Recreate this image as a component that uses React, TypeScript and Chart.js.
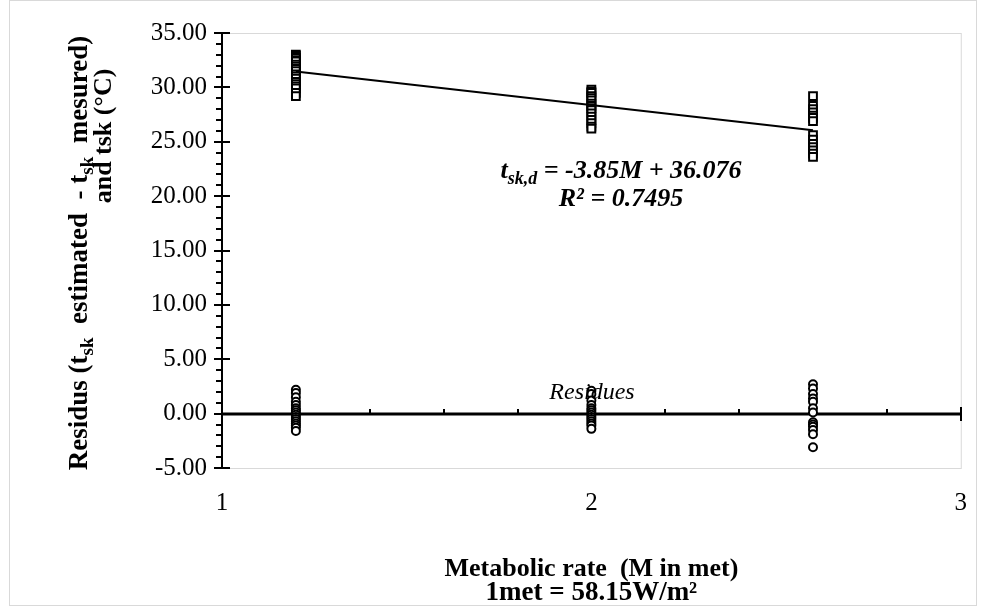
import React, { useEffect, useRef } from "react";
import { Chart, registerables } from "chart.js";

Chart.register(...registerables);

// ---------- data ----------
const tskAt12 = [33.0, 32.9, 32.7, 32.5, 32.4, 32.1, 31.9, 31.7, 31.5, 31.2, 31.0, 30.8, 30.5, 30.3, 30.1, 29.9, 29.5, 29.2];
const tskAt20 = [29.8, 29.6, 29.5, 29.2, 29.0, 28.8, 28.5, 28.3, 28.1, 27.9, 27.6, 27.3, 27.0, 26.7, 26.4, 26.2];
const tskAt26 = [29.2, 28.3, 28.0, 27.7, 27.4, 27.2, 26.9, 25.6, 25.2, 24.8, 24.5, 24.2, 23.9, 23.6];
const resAt12 = [2.2, 1.9, 1.5, 1.1, 0.8, 0.5, 0.3, 0.1, -0.1, -0.3, -0.5, -0.7, -0.9, -1.1, -1.3, -1.6];
const resAt20 = [2.1, 1.8, 1.2, 0.8, 0.5, 0.3, 0.1, -0.1, -0.3, -0.5, -0.7, -0.9, -1.1, -1.4];
const resAt26 = [2.7, 2.3, 1.8, 1.4, 1.1, 0.5, 0.1, -0.8, -1.0, -1.2, -1.5, -1.9, -3.1];
const metabolicLevels = [1.2, 2.0, 2.6];
const trendX = [1.2, 2.6];
const trendY = [31.456, 26.066];
const yMin = -5;
const yMax = 35;
const yMajorStep = 5;
const yMinorStep = 1;
const xMin = 1;
const xMax = 3;
const xMinorStep = 0.2;

const xTitle1 = "Metabolic rate  (M in met)";
const xTitle2 = "1met = 58.15W/m²";
const residuesLabel = "Residues";
const r2Label = "R² = 0.7495";

const SERIF = "'Liberation Serif', 'Times New Roman', serif";

type Seg = { text: string; font: string; dy: number };

function drawRich(ctx: CanvasRenderingContext2D, segs: Seg[], cx: number, by: number) {
  let total = 0;
  const widths = segs.map((s) => {
    ctx.font = s.font;
    const w = ctx.measureText(s.text).width;
    total += w;
    return w;
  });
  let x = cx - total / 2;
  ctx.textAlign = "left";
  ctx.textBaseline = "alphabetic";
  segs.forEach((s, i) => {
    ctx.font = s.font;
    ctx.fillText(s.text, x, by + s.dy);
    x += widths[i];
  });
}

const decorPlugin = {
  id: "decor",
  beforeDraw(chart: any) {
    const ctx = chart.ctx as CanvasRenderingContext2D;
    ctx.save();
    ctx.strokeStyle = "#d9d9d9";
    ctx.lineWidth = 1;
    ctx.strokeRect(9.5, 0.5, 967, 605);
    ctx.restore();
  },
  beforeDatasetsDraw(chart: any) {
    const ctx = chart.ctx as CanvasRenderingContext2D;
    const a = chart.chartArea;
    const x = chart.scales.x;
    const y = chart.scales.y;
    ctx.save();
    ctx.strokeStyle = "#d9d9d9";
    ctx.lineWidth = 1;
    ctx.strokeRect(Math.round(a.left) + 0.5, Math.round(a.top) + 0.5, a.right - a.left, a.bottom - a.top);
    ctx.strokeStyle = "#000";
    ctx.lineWidth = 2;
    ctx.beginPath();
    ctx.moveTo(a.left, a.top);
    ctx.lineTo(a.left, a.bottom);
    ctx.stroke();
    const nMinor = Math.round((yMax - yMin) / yMinorStep);
    for (let i = 0; i <= nMinor; i++) {
      const v = yMin + i * yMinorStep;
      const py = Math.round(y.getPixelForValue(v));
      ctx.beginPath();
      if (Math.abs(v % yMajorStep) < 1e-9) {
        ctx.moveTo(a.left - 8, py);
        ctx.lineTo(a.left + 8, py);
      } else {
        ctx.moveTo(a.left - 6, py);
        ctx.lineTo(a.left, py);
      }
      ctx.stroke();
    }
    const py0 = Math.round(y.getPixelForValue(0));
    ctx.lineWidth = 3;
    ctx.beginPath();
    ctx.moveTo(a.left, py0);
    ctx.lineTo(a.right, py0);
    ctx.stroke();
    ctx.lineWidth = 2;
    const nx = Math.round((xMax - xMin) / xMinorStep);
    for (let i = 0; i <= nx; i++) {
      const v = xMin + i * xMinorStep;
      const px = Math.round(x.getPixelForValue(v));
      ctx.beginPath();
      if (i % 5 === 0) {
        ctx.moveTo(px, py0 - 7);
        ctx.lineTo(px, py0 + 7);
      } else {
        ctx.moveTo(px, py0 - 5);
        ctx.lineTo(px, py0);
      }
      ctx.stroke();
    }
    ctx.restore();
  },
  afterDraw(chart: any) {
    const ctx = chart.ctx as CanvasRenderingContext2D;
    const a = chart.chartArea;
    const cx = (a.left + a.right) / 2;
    ctx.save();
    ctx.fillStyle = "#000";
    drawRich(ctx, [{ text: xTitle1, font: `bold 26px ${SERIF}`, dy: 0 }], cx, 576);
    drawRich(ctx, [{ text: xTitle2, font: `bold 27px ${SERIF}`, dy: 0 }], cx, 600);
    const bi = `italic bold 26px ${SERIF}`;
    const biSub = `italic bold 18px ${SERIF}`;
    drawRich(
      ctx,
      [
        { text: "t", font: bi, dy: 0 },
        { text: "sk,d", font: biSub, dy: 6 },
        { text: " = -3.85M + 36.076", font: bi, dy: 0 },
      ],
      621,
      178
    );
    drawRich(ctx, [{ text: r2Label, font: bi, dy: 0 }], 621, 206);
    drawRich(ctx, [{ text: residuesLabel, font: `italic 24px ${SERIF}`, dy: 0 }], 592, 399);
    const b = `bold 27px ${SERIF}`;
    const bs = `bold 19px ${SERIF}`;
    ctx.save();
    ctx.translate(87, 253);
    ctx.rotate(-Math.PI / 2);
    drawRich(
      ctx,
      [
        { text: "Residus (t", font: b, dy: 0 },
        { text: "sk", font: bs, dy: 6 },
        { text: "  estimated  - t", font: b, dy: 0 },
        { text: "sk", font: bs, dy: 6 },
        { text: "  mesured)", font: b, dy: 0 },
      ],
      0,
      0
    );
    ctx.restore();
    ctx.save();
    ctx.translate(111, 136);
    ctx.rotate(-Math.PI / 2);
    drawRich(ctx, [{ text: "and tsk (°C)", font: `bold 26px ${SERIF}`, dy: 0 }], 0, 0);
    ctx.restore();
    ctx.restore();
  },
};

function pts(xv: number, ys: number[]) {
  return ys.map((v) => ({ x: xv, y: v }));
}

export default function App() {
  const ref = useRef<HTMLCanvasElement | null>(null);
  useEffect(() => {
    if (!ref.current) return;
    const squares = [
      ...pts(metabolicLevels[0], tskAt12),
      ...pts(metabolicLevels[1], tskAt20),
      ...pts(metabolicLevels[2], tskAt26),
    ];
    const circles = [
      ...pts(metabolicLevels[0], resAt12),
      ...pts(metabolicLevels[1], resAt20),
      ...pts(metabolicLevels[2], resAt26),
    ];
    const trend = trendX.map((xv, i) => ({ x: xv, y: trendY[i] }));
    const chart = new Chart(ref.current, {
      type: "scatter",
      data: {
        datasets: [
          {
            type: "line",
            data: trend,
            borderColor: "#000",
            borderWidth: 2,
            pointRadius: 0,
            showLine: true,
            fill: false,
          } as any,
          {
            data: squares,
            pointStyle: "rect",
            pointRadius: 5.5,
            borderColor: "#000",
            backgroundColor: "#fff",
            borderWidth: 2,
          },
          {
            data: circles,
            pointStyle: "circle",
            pointRadius: 4,
            borderColor: "#000",
            backgroundColor: "#fff",
            borderWidth: 2,
          },
        ],
      },
      options: {
        animation: false,
        responsive: false,
        events: [],
        layout: { padding: { top: 33, right: 25, left: 0, bottom: 0 } },
        plugins: { legend: { display: false }, tooltip: { enabled: false } },
        scales: {
          x: {
            type: "linear",
            min: xMin,
            max: xMax,
            border: { display: false },
            grid: { display: false, drawTicks: false },
            ticks: {
              stepSize: 1,
              padding: 20,
              color: "#000",
              font: { family: SERIF, size: 25 },
              callback: (v: any) => String(v),
            },
            afterFit: (s: any) => {
              s.height = 146;
            },
          },
          y: {
            min: yMin,
            max: yMax,
            border: { display: false },
            grid: { display: false, drawTicks: false },
            ticks: {
              stepSize: yMajorStep,
              padding: 15,
              color: "#000",
              font: { family: SERIF, size: 25 },
              callback: (v: any) => Number(v).toFixed(2),
            },
            afterFit: (s: any) => {
              s.width = 222;
            },
          },
        },
      },
      plugins: [decorPlugin],
    });
    return () => chart.destroy();
  }, []);
  return (
    <div style={{ position: "absolute", left: 0, top: 0, width: 987, height: 614, background: "#fff" }}>
      <canvas ref={ref} width={987} height={614} style={{ display: "block" }} />
    </div>
  );
}
